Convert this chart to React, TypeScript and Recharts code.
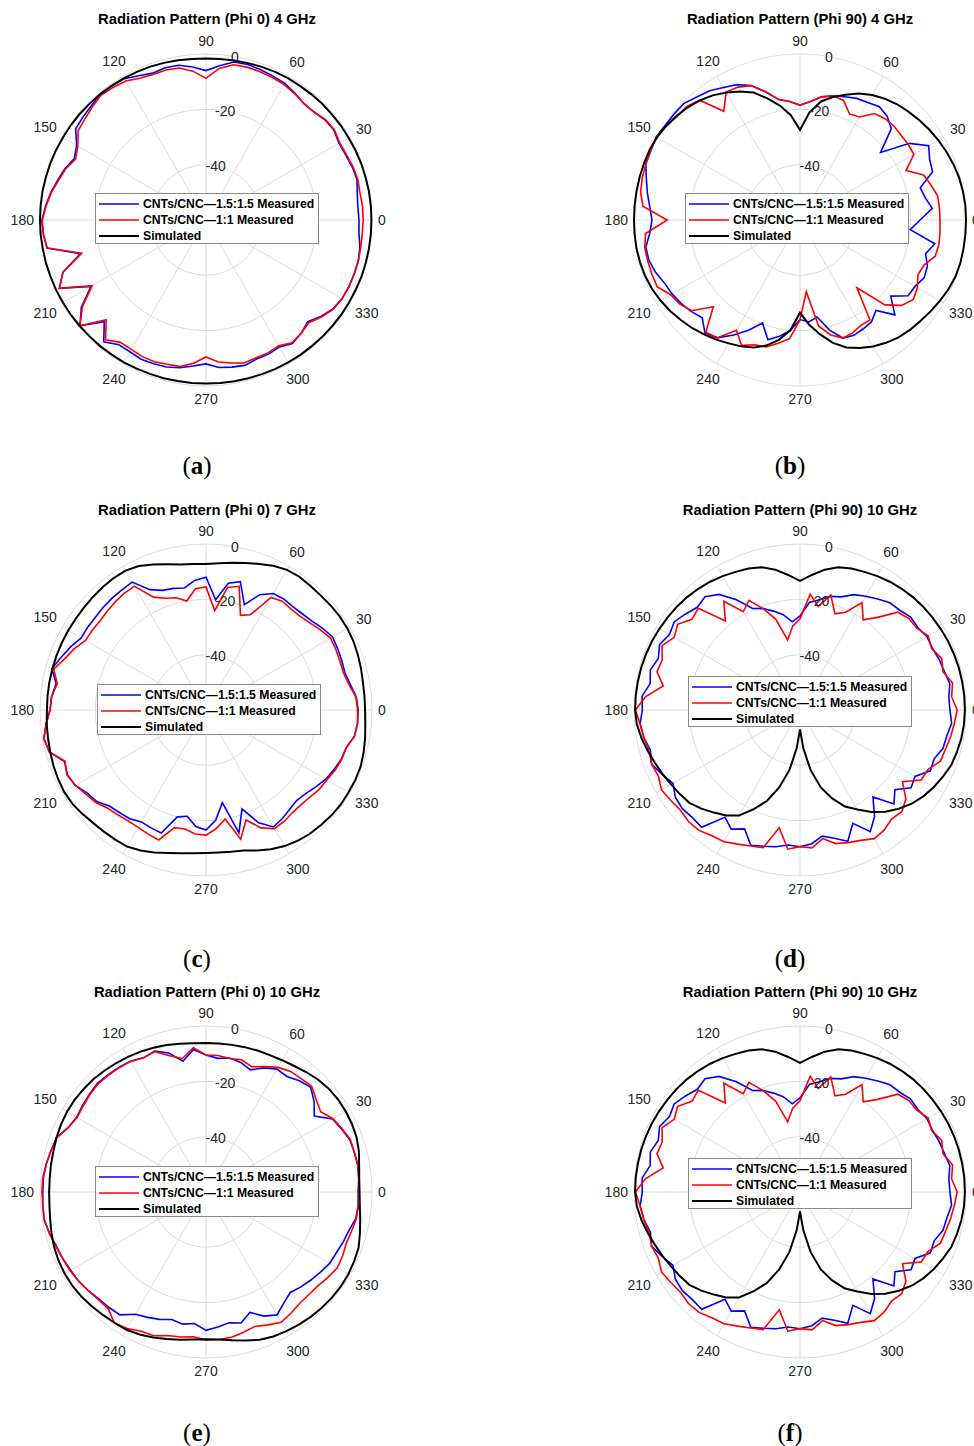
import React from "react";
import {
  RadarChart,
  Radar,
  PolarGrid,
  PolarAngleAxis,
  PolarRadiusAxis,
} from "recharts";

// angle (deg) of every sample, counter-clockwise from 0
const ANGLES = [
  0, 5, 10, 15, 20, 25, 30, 35, 40, 45, 50, 55, 60, 65, 70, 75, 80, 85, 90, 95,
  100, 105, 110, 115, 120, 125, 130, 135, 140, 145, 150, 155, 160, 165, 170, 175,
  180, 185, 190, 195, 200, 205, 210, 215, 220, 225, 230, 235, 240, 245, 250, 255,
  260, 265, 270, 275, 280, 285, 290, 295, 300, 305, 310, 315, 320, 325, 330, 335,
  340, 345, 350, 355,
];

const THETA_TICKS = [0, 30, 60, 90, 120, 150, 180, 210, 240, 270, 300, 330];
const R_TICKS = [-40, -20, 0];
const R_DOMAIN = [-60, 0];

const SERIES_NAMES = [
  "CNTs/CNC\u20141.5:1.5 Measured",
  "CNTs/CNC\u20141:1 Measured",
  "Simulated",
];
const COLORS = ["#0000ff", "#ff0000", "#000000"];

// (a) Phi 0, 4 GHz
const A_BLUE = [
  -4.7, -4.9, -4.5, -3.5, -3.8, -4.3, -4.5, -3.5, -3.8, -4.8,
  -5, -4, -3, -2.6, -2.2, -1.8, -2, -4, -6, -4.5,
  -3.2, -3, -3.5, -2.5, -1, -0.8, -0.5, -1.5, -2, -2.5,
  -6, -7.5, -5.7, -4.5, -3, -1.8, -0.7, -1, -1.7, -13,
  -5, -1.5, -12, -5, -0.5, -8, -2.5, -5, -5, -4.5,
  -4.7, -5, -5.8, -7, -8, -6.5, -6, -5.6, -6.5, -6.5,
  -7, -5.5, -6.5, -8, -5.8, -4, -3.2, -3, -3, -3,
  -3.5, -4.5,
];
const A_RED = [
  -3.2, -3.2, -3.5, -3.2, -3.5, -4, -4.2, -3.3, -3.6, -4.8,
  -5, -4.2, -3.5, -3.2, -3, -2.8, -3, -5, -8.8, -6,
  -4.2, -3.9, -4, -3.5, -2, -1.5, -1, -2, -3, -3.6,
  -6.5, -8, -6, -4.8, -3.2, -2, -0.8, -1, -1.6, -13.5,
  -5, -1.5, -12.5, -5.5, -0.5, -9, -3.5, -6, -6, -5.5,
  -5.5, -6, -6.2, -8, -10.5, -8.5, -7.5, -6.5, -7, -7,
  -7.5, -5.8, -6.5, -7.5, -5.5, -3.8, -3.2, -3, -3, -3,
  -3.2, -3.3,
];
const A_SIM = [
  -0.2, -0.2, -0.2, -0.3, -0.3, -0.4, -0.5, -0.5, -0.6, -0.6,
  -0.7, -0.8, -0.8, -0.9, -1.1, -1.3, -1.5, -1.6, -1.6, -1.6,
  -1.4, -1.2, -1, -0.9, -0.8, -0.7, -0.6, -0.5, -0.4, -0.3,
  -0.3, -0.2, -0.1, -0.1, 0, 0, 0, 0, -0.1, -0.1,
  -0.2, -0.2, -0.3, -0.3, -0.4, -0.5, -0.5, -0.6, -0.6, -0.7,
  -0.8, -0.8, -0.9, -0.9, -0.9, -0.9, -0.8, -0.8, -0.7, -0.6,
  -0.6, -0.5, -0.5, -0.4, -0.4, -0.3, -0.3, -0.3, -0.2, -0.2,
  -0.2, -0.2,
];

// (b) Phi 90, 4 GHz
const B_BLUE = [
  -16.6, -12, -14, -15, -9, -8.3, -6.3, -11.7, -22, -13.3,
  -11, -10, -11, -11.5, -12.6, -13.5, -14.8, -17, -18.5, -17,
  -15.8, -12, -8.3, -6, -4.7, -3, -2, -0.5, -0.5, -0.5,
  0, -0.5, -0.7, -2.5, -4, -5.5, -6.5, -5.5, -3.4, -3.5,
  -4.5, -6, -6.6, -7.5, -8.6, -10, -6.6, -8, -12, -16,
  -20.4, -15.2, -17.3, -20, -24, -23, -24.4, -18.8, -14.6, -14,
  -14.5, -15, -17.3, -11.5, -17.2, -12.3, -12, -10.5, -11, -13,
  -10.5, -20,
];
const B_RED = [
  -9.4, -9.4, -9.5, -11, -12.4, -17.7, -12.5, -12.3, -12.3, -12,
  -12.2, -13, -17, -17.7, -14, -13.5, -14.8, -17, -18.5, -17,
  -15.8, -12, -8.3, -7, -6.6, -12, -3.5, -2, -1.9, -1,
  0, -0.5, -0.7, -1, -1.5, -3, -12, -4, -3, -3,
  -3, -3, -6, -7, -9, -15.7, -7, -8, -14, -10,
  -12, -12.5, -14.8, -17, -23.9, -34, -21, -17, -14.6, -15,
  -16, -15.9, -28, -16.6, -12, -10, -11, -13, -12.3, -9.4,
  -9, -9.2,
];
const B_SIM = [
  0, 0, -0.2, -0.5, -1, -1.6, -2.3, -3, -3.8, -4.6,
  -5.4, -6.5, -7.8, -9.6, -11.8, -14, -16.5, -21, -27.5, -22,
  -18, -14.5, -11, -8.8, -6.8, -5, -3.6, -2.5, -1.6, -0.8,
  -0.3, 0, 0, 0, 0, 0, 0, 0, 0, -0.2,
  -0.5, -1, -1.8, -2.7, -3.8, -4.8, -6, -7.2, -8.5, -9.6,
  -11, -13, -16, -20, -26.5, -22, -18, -14, -11, -9,
  -7.2, -5.8, -4.6, -3.8, -3.2, -2.4, -1.6, -0.8, -0.2, 0,
  0, 0,
];

// (c) Phi 0, 7 GHz
const C_BLUE = [
  -5, -5.5, -7, -8, -7.8, -7.5, -7.2, -8.5, -10, -10.8,
  -11.2, -11, -11.4, -14, -19.5, -12, -13.5, -20, -12, -13,
  -15.2, -14.5, -14, -12, -6.6, -7, -7.2, -7.5, -7.8, -7.8,
  -7.9, -6, -4.3, -2.3, -5, -4, -3.6, -2, -0.5, -1.4,
  -5.6, -4.7, -5.5, -7.6, -8.5, -10.8, -11.5, -12, -13.3, -13,
  -12.7, -20, -21, -17.7, -16.6, -20, -26, -14, -22, -15,
  -11.2, -12, -13, -13.7, -13, -11.5, -10, -9, -8, -7.5,
  -5.5, -5,
];
const C_RED = [
  -5.2, -5.6, -7.5, -8.5, -8.5, -8.2, -8, -9.5, -11, -12,
  -12.3, -12, -13, -22, -23.6, -13.7, -15, -23.9, -15.5, -16,
  -20, -18, -17, -15, -8.3, -8.5, -9, -9.5, -10, -9.8,
  -9.7, -7.5, -5.7, -3, -5.4, -4, -3.6, -2, -0.5, -1.4,
  -5.8, -4.5, -5.5, -7, -8, -9.8, -10.5, -11, -11, -10.5,
  -10, -16, -16.3, -15, -14.8, -17, -20, -11.6, -17.7, -13,
  -10.5, -10.8, -11.5, -11.5, -11, -10, -9.5, -8.5, -7.8, -7.5,
  -5.5, -5,
];
const C_SIM = [
  -2.5, -2.5, -2.4, -2, -1.6, -1.2, -1, -1, -1.2, -1.4,
  -1.4, -1.2, -1.5, -2.5, -3.8, -5, -6, -6.8, -7.2, -7,
  -6.6, -5.5, -4, -2.6, -1.8, -1.8, -2, -2.2, -2.4, -2.5,
  -2.5, -2.5, -2.5, -2.5, -2.5, -2.5, -2.5, -2.2, -2, -1.7,
  -1.3, -1, -0.8, -1, -1.6, -2.3, -2.6, -2.8, -3, -4,
  -5.2, -6.5, -7.4, -8, -8.3, -8.3, -8, -7.4, -6, -4.5,
  -3.2, -2.3, -1.6, -1.2, -0.8, -0.5, -0.5, -0.4, -0.5, -1,
  -1.6, -2.2,
];

// (d) Phi 90, 10 GHz  -- (f) shows the same traces
const D_BLUE = [
  -5.8, -6, -5, -6, -6.5, -7.2, -7, -8, -7.8, -9,
  -9.4, -11, -12.5, -14, -16.5, -17.5, -19.5, -21, -26, -28,
  -25, -23, -21, -19.5, -14, -9, -6.6, -7.5, -6, -4.5,
  -5.5, -4, -5.5, -4, -5, -2.7, -3, -2, -2.7, -4,
  -2.9, -5, -7, -5, -4.5, -5, -4.7, -12.7, -10.3, -12.6,
  -8, -9, -9.8, -11, -10.6, -11.5, -13.7, -12, -9.5, -14.8,
  -9.2, -13, -19, -12, -15.2, -11, -12, -8, -8.4, -6.5,
  -6.1, -5,
];
const D_RED = [
  -3.2, -5, -4, -6.5, -5.5, -7.5, -6.5, -8.5, -8.6, -10,
  -16.3, -20.2, -15.2, -21, -23, -17, -22, -18, -27, -29.6,
  -34.3, -26, -21, -16.3, -19, -12, -18, -8, -9, -6,
  -7.5, -5, -7, -6.5, -9.8, -4, -0.5, -2, -2.7, -3.5,
  -2.9, -3.5, -2.2, -3, -3.6, -3, -3.2, -4.5, -5, -6.5,
  -7.7, -8.5, -16.8, -9.5, -10.6, -10, -12.8, -10, -9, -8,
  -6.3, -7, -8.5, -8, -10, -14.8, -9.4, -9, -6, -5.5,
  -4.7, -4,
];
const D_SIM = [
  -0.4, -0.4, -0.5, -0.6, -0.8, -1, -1.3, -1.6, -1.9, -2.3,
  -2.8, -3.4, -4.1, -4.9, -5.6, -6.6, -8.5, -11, -13.3, -11,
  -8.5, -6.6, -5.6, -4.9, -4.1, -3.4, -2.8, -2.3, -1.9, -1.6,
  -1.3, -1, -0.8, -0.6, -0.5, -0.4, -0.4, -0.8, -1.8, -3,
  -4.2, -5.2, -6.2, -7, -7.8, -9.6, -11.6, -13.5, -16, -20.5,
  -25, -31, -38, -46, -53, -46, -38, -31, -26, -21.5,
  -18.5, -15, -12, -9.5, -7.3, -5.6, -4.2, -3, -1.8, -1.3,
  -0.8, -0.5,
];

// (e) Phi 0, 10 GHz
const E_BLUE = [
  -5, -4.6, -4.3, -4.5, -4.7, -6, -7.2, -12.2, -9, -6.5,
  -7.5, -9, -8.7, -10.5, -13, -11.5, -10.8, -11.5, -10.5, -8.3,
  -12, -8, -5.8, -6.5, -5.4, -5, -4.8, -4.5, -5, -5.5,
  -6, -5, -2.5, -2, -1.4, -1, -1, -0.8, -0.7, -1.5,
  -2.5, -2.9, -3.5, -3.8, -4.5, -5.3, -5.5, -5.8, -9, -10,
  -11, -12.3, -11.5, -12.3, -10, -11, -12, -11, -13.7, -10.5,
  -8.7, -11, -12.6, -11.5, -10.5, -9.5, -8.4, -8, -7.2, -6.5,
  -5, -4.8,
];
const E_RED = [
  -4.8, -4.5, -4.2, -4.5, -4.5, -5.8, -7, -9.4, -8, -6,
  -6.5, -6.8, -8, -10, -11.8, -10.5, -11, -10.5, -10.5, -7.7,
  -11, -9, -6, -6.5, -5.5, -5.2, -5, -4.8, -5.2, -5.8,
  -6.2, -5, -2.7, -2, -1.4, -0.8, -0.7, -0.8, -0.7, -1.5,
  -2.3, -2.9, -3.2, -3.8, -4.5, -5, -5, -2.2, -3, -4.5,
  -4.7, -6.3, -6.8, -7.5, -6.5, -6.5, -6.7, -7.5, -8.3, -7,
  -5.6, -6.5, -7.4, -7.5, -7.2, -6.2, -5.2, -5.5, -6, -5.5,
  -4.8, -4.7,
];
const E_SIM = [
  -4.5, -4.4, -3.8, -2.8, -2.1, -1.8, -1.7, -1.7, -2, -2.6,
  -3.5, -4.4, -5, -5.4, -5.6, -5.8, -6, -6.1, -6.1, -6,
  -5.6, -5, -4.5, -4, -3.6, -3.2, -2.8, -2.4, -2.2, -2,
  -2, -2.2, -2.5, -2.9, -3.1, -3.3, -3.3, -3.2, -2.8, -2.2,
  -1.6, -1.2, -1, -1, -1.2, -1.6, -2, -2.3, -2.5, -3.2,
  -4, -5, -5.8, -6.5, -6.8, -6.5, -5.6, -4.4, -3.2, -2.4,
  -1.9, -1.5, -1.1, -0.8, -0.6, -0.5, -0.6, -0.9, -1.3, -2.4,
  -3.4, -4.2,
];

const PANELS = [
  { id: "a", title: "Radiation Pattern (Phi 0) 4 GHz", cx: 206, cy: 220, titleX: 207, titleY: 19, capX: 197, capY: 466, legend: [-111, -27], blue: A_BLUE, red: A_RED, sim: A_SIM },
  { id: "b", title: "Radiation Pattern (Phi 90) 4 GHz", cx: 800, cy: 220, titleX: 800, titleY: 19, capX: 790, capY: 466, legend: [-115, -27], blue: B_BLUE, red: B_RED, sim: B_SIM },
  { id: "c", title: "Radiation Pattern (Phi 0) 7 GHz", cx: 206, cy: 710, titleX: 207, titleY: 510, capX: 197, capY: 959, legend: [-109, -26], blue: C_BLUE, red: C_RED, sim: C_SIM },
  { id: "d", title: "Radiation Pattern (Phi 90) 10 GHz", cx: 800, cy: 710, titleX: 800, titleY: 510, capX: 790, capY: 959, legend: [-112, -34], blue: D_BLUE, red: D_RED, sim: D_SIM },
  { id: "e", title: "Radiation Pattern (Phi 0) 10 GHz", cx: 206, cy: 1192, titleX: 207, titleY: 992, capX: 197, capY: 1433, legend: [-111, -26], blue: E_BLUE, red: E_RED, sim: E_SIM },
  { id: "f", title: "Radiation Pattern (Phi 90) 10 GHz", cx: 800, cy: 1192, titleX: 800, titleY: 992, capX: 790, capY: 1433, legend: [-112, -34], blue: D_BLUE, red: D_RED, sim: D_SIM },
];

const SIZE = 400;
const MID = SIZE / 2;
const OUTER = 166;
const SANS = "'Liberation Sans', Arial, sans-serif";
const TEXT = "#262626";
const GRID = "#dcdcdc";
const LINE_W = [1.6, 1.6, 2];

const gridRadii = R_TICKS.map(
  (v) => ((v - R_DOMAIN[0]) / (R_DOMAIN[1] - R_DOMAIN[0])) * OUTER
);

const AngleTick = (props: any) => {
  const deg = props.payload.value;
  const rad = (deg * Math.PI) / 180;
  const c = Math.cos(rad);
  const s = Math.sin(rad);
  const halfW = (String(deg).length * 7.8) / 2;
  const r = OUTER + 6 + Math.abs(c) * halfW + Math.abs(s) * 7;
  return (
    <text
      x={MID + r * c}
      y={MID - r * s}
      textAnchor="middle"
      dominantBaseline="central"
      fontSize={14}
      fontFamily={SANS}
      fill={TEXT}
    >
      {deg}
    </text>
  );
};

const RadiusTick = (props: any) => (
  <text
    x={props.x}
    y={props.y}
    textAnchor="middle"
    dominantBaseline="central"
    fontSize={14}
    fontFamily={SANS}
    fill={TEXT}
  >
    {props.payload.value}
  </text>
);

const LegendBox = ({ left, top }: { left: number; top: number }) => (
  <div
    style={{
      position: "absolute",
      left,
      top,
      width: 222,
      height: 49,
      background: "#fff",
      border: "1px solid #8a8a8a",
      fontFamily: SANS,
      fontWeight: "bold",
      fontSize: 12.2,
      color: "#000",
    }}
  >
    {SERIES_NAMES.map((name, i) => (
      <div
        key={name}
        style={{
          position: "absolute",
          left: 3,
          top: 2 + i * 16,
          height: 16,
          display: "flex",
          alignItems: "center",
          whiteSpace: "nowrap",
        }}
      >
        <svg width={40} height={6} style={{ marginRight: 4, display: "block" }}>
          <line x1={0} y1={3} x2={40} y2={3} stroke={COLORS[i]} strokeWidth={LINE_W[i]} />
        </svg>
        {name}
      </div>
    ))}
  </div>
);

const PolarPanel = ({ panel }: { panel: (typeof PANELS)[number] }) => {
  const data = ANGLES.map((angle, i) => ({
    angle,
    blue: panel.blue[i],
    red: panel.red[i],
    sim: panel.sim[i],
  }));
  return (
    <>
      <div
        style={{
          position: "absolute",
          left: panel.titleX - 200,
          top: panel.titleY - 9,
          width: 400,
          lineHeight: "18px",
          textAlign: "center",
          fontFamily: SANS,
          fontWeight: "bold",
          fontSize: 14.8,
          color: "#000",
        }}
      >
        {panel.title}
      </div>
      <div style={{ position: "absolute", left: panel.cx - MID, top: panel.cy - MID }}>
        <RadarChart
          width={SIZE}
          height={SIZE}
          data={data}
          cx="50%"
          cy="50%"
          outerRadius={OUTER}
          startAngle={0}
          endAngle={360}
          margin={{ top: 0, right: 0, bottom: 0, left: 0 }}
        >
          <PolarGrid
            gridType="circle"
            polarAngles={THETA_TICKS}
            polarRadius={gridRadii}
            stroke={GRID}
          />
          <PolarAngleAxis
            dataKey="angle"
            type="number"
            domain={[0, 360]}
            ticks={THETA_TICKS}
            tick={AngleTick}
            axisLine={false}
            tickLine={false}
          />
          <PolarRadiusAxis
            angle={80}
            type="number"
            domain={R_DOMAIN}
            ticks={R_TICKS}
            allowDataOverflow
            axisLine={false}
            tickLine={false}
            tick={RadiusTick}
          />
          <Radar dataKey="blue" stroke={COLORS[0]} strokeWidth={LINE_W[0]} fill="none" fillOpacity={0} dot={false} isAnimationActive={false} />
          <Radar dataKey="red" stroke={COLORS[1]} strokeWidth={LINE_W[1]} fill="none" fillOpacity={0} dot={false} isAnimationActive={false} />
          <Radar dataKey="sim" stroke={COLORS[2]} strokeWidth={LINE_W[2]} fill="none" fillOpacity={0} dot={false} isAnimationActive={false} />
        </RadarChart>
      </div>
      <LegendBox left={panel.cx + panel.legend[0]} top={panel.cy + panel.legend[1]} />
      <div
        style={{
          position: "absolute",
          left: panel.capX - 50,
          top: panel.capY - 14,
          width: 100,
          lineHeight: "28px",
          textAlign: "center",
          fontFamily: "'Liberation Serif', 'Times New Roman', serif",
          fontSize: 25,
          color: "#000",
        }}
      >
        (<b>{panel.id}</b>)
      </div>
    </>
  );
};

export default function App() {
  return (
    <div
      style={{
        position: "absolute",
        left: 0,
        top: 0,
        width: 974,
        height: 1446,
        overflow: "hidden",
        background: "#fff",
      }}
    >
      {PANELS.map((p) => (
        <PolarPanel key={p.id} panel={p} />
      ))}
    </div>
  );
}
